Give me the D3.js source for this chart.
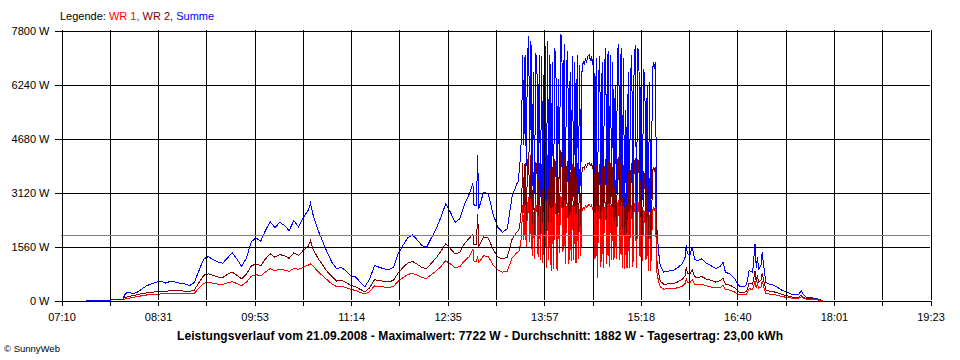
<!DOCTYPE html>
<html><head><meta charset="utf-8">
<script src="https://cdn.jsdelivr.net/npm/d3@7"></script>
<style>
body{margin:0;background:#fff;}
svg{display:block;}
text{font-family:"Liberation Sans",Arial,sans-serif;}
</style>
</head><body>
<svg id="chart" width="960" height="360"></svg>
<script>
const times = [
"07:31","07:45","08:02","08:03","08:06","08:10","08:14","08:18","08:22","08:26",
"08:30","08:34","08:38","08:42","08:46","08:50","08:54","08:58","09:02","09:06",
"09:10","09:14","09:18","09:22","09:26","09:30","09:34","09:38","09:42","09:46",
"09:50","09:54","09:58","10:02","10:06","10:10","10:14","10:18","10:22","10:26",
"10:30","10:34","10:38","10:40","10:42","10:46","10:50","10:54","10:58","11:02",
"11:06","11:10","11:14","11:18","11:22","11:26","11:30","11:34","11:38","11:42",
"11:46","11:50","11:54","11:58","12:02","12:06","12:10","12:14","12:18","12:22",
"12:26","12:30","12:34","12:38","12:42","12:46","12:50","12:54","12:57","12:58",
"13:00","13:01","13:02","13:06","13:10","13:14","13:18","13:22","13:26","13:30",
"13:34","13:35","13:36","13:37","13:38","13:39","13:40","13:41","13:42","13:43",
"13:44","13:45","13:46","13:47","13:48","13:49","13:50","13:51","13:52","13:53",
"13:54","13:55","13:56","13:57","13:58","13:59","14:00","14:01","14:02","14:03",
"14:04","14:05","14:06","14:07","14:08","14:09","14:10","14:11","14:12","14:13",
"14:14","14:15","14:16","14:17","14:18","14:19","14:20","14:21","14:22","14:23",
"14:24","14:25","14:26","14:27","14:28","14:29","14:30","14:31","14:32","14:33",
"14:34","14:35","14:36","14:37","14:38","14:39","14:40","14:41","14:42","14:43",
"14:44","14:45","14:46","14:47","14:48","14:49","14:50","14:51","14:52","14:53",
"14:54","14:55","14:56","14:57","14:58","14:59","15:00","15:01","15:02","15:03",
"15:04","15:05","15:06","15:07","15:08","15:09","15:10","15:11","15:12","15:13",
"15:14","15:15","15:16","15:17","15:18","15:19","15:20","15:21","15:22","15:23",
"15:24","15:25","15:26","15:27","15:28","15:29","15:30","15:31","15:32","15:33",
"15:34","15:35","15:38","15:42","15:46","15:50","15:54","15:56","15:57","15:58",
"16:00","16:02","16:04","16:06","16:10","16:14","16:18","16:22","16:26","16:28",
"16:30","16:34","16:38","16:42","16:46","16:48","16:50","16:53","16:55","16:56",
"16:57","16:58","17:00","17:01","17:02","17:04","17:06","17:10","17:14","17:18",
"17:22","17:26","17:30","17:32","17:34","17:36","17:38","17:42","17:46","17:50",
"17:52"
];
const summe = [
10,10,20,150,250,200,240,340,430,480,
530,560,500,560,530,500,480,430,520,870,
1200,1270,1175,1110,1080,1230,1380,1200,980,1230,
1690,1810,1710,2020,2280,2100,2260,2170,2020,2310,
2120,2400,2600,2810,2500,2070,1730,1400,1110,915,
960,850,720,680,530,400,625,1010,960,915,
890,960,1350,1590,1810,1900,1750,1590,1540,1810,
2070,2400,2790,2550,2260,2360,2790,3080,3380,2740,
2750,4190,2650,3130,3080,2500,2120,1970,2070,2990,
3370,3410,3700,4100,4770,7080,4500,7100,3900,6900,
7650,4300,7500,3300,6600,3100,7150,6900,3200,7100,
3000,7050,2800,6500,7350,2400,7500,3000,7100,2200,
6900,2300,7300,7000,2200,6400,3500,7700,7600,3600,
7400,2700,6800,7200,2700,6600,2900,7050,3000,6900,
2800,7100,3100,6800,3300,6600,6900,6800,7000,6900,
7050,7100,6950,7050,6800,7280,3100,7000,1700,6400,
7050,2500,6900,2400,6700,7280,2700,7200,2500,7100,
3000,6900,3000,6200,3100,7200,7400,3000,7300,2400,
7000,2370,5500,2400,6600,2400,6500,7100,2500,6900,
7370,2400,7300,7150,3200,6800,2900,6700,6400,3000,
6200,2200,6300,2200,5000,6900,6700,6900,2200,1700,
1300,1000,820,850,870,950,1080,1250,1590,1350,
1300,1540,1200,1150,1200,1080,1000,920,1000,1110,
820,760,620,400,400,480,870,820,1640,950,
1250,900,1000,1400,1100,530,480,450,380,290,
240,180,170,180,290,160,100,80,60,20,
0
];
const wr2 = [
null,null,null,80,110,140,170,200,220,240,
250,250,260,290,290,280,270,260,300,520,
730,770,720,680,660,760,820,730,625,760,
990,1060,1000,1200,1350,1250,1330,1290,1220,1380,
1300,1450,1560,1730,1500,1240,1040,840,700,560,
580,520,440,400,320,250,370,600,580,550,
540,580,800,950,1080,1130,1050,950,920,1080,
1230,1420,1640,1500,1340,1400,1650,1800,1925,1600,
1620,2510,1560,1840,1800,1480,1260,1200,1250,1760,
1980,2000,2070,2300,2670,3960,2520,3980,2180,3860,
4280,2410,4200,1850,3700,1740,4000,3860,1790,3980,
1680,3950,1570,3640,4120,1340,4200,1680,3980,1230,
3860,1290,4090,3920,1230,3580,1960,4310,4260,2020,
4140,1510,3810,4030,1510,3700,1620,3950,1680,3860,
1570,3980,1740,3810,1850,3700,3860,3810,3920,3860,
3950,3980,3890,3950,3810,4080,1740,3920,950,3580,
3950,1400,3860,1340,3750,4080,1510,4030,1400,3980,
1680,3860,1680,3470,1740,4030,4140,1680,4090,1340,
3920,1330,3080,1340,3700,1340,3640,3980,1400,3860,
4130,1340,4090,4000,1790,3810,1620,3750,3580,1680,
3470,1230,3530,1230,2800,3860,3750,3860,1230,950,
730,560,470,480,490,540,620,720,960,780,
750,900,690,660,690,620,580,530,580,640,
470,440,360,230,230,280,500,470,850,550,
720,520,580,780,640,310,280,260,220,170,
140,100,100,100,150,90,60,50,40,10,
0
];
const wr1 = [
null,null,null,40,60,90,110,140,160,170,
180,190,190,210,210,200,200,190,210,360,
500,530,500,470,460,510,540,490,430,530,
700,750,710,820,920,860,900,880,840,930,
900,960,1020,1060,1000,850,720,600,480,400,
410,370,320,290,230,190,260,420,400,390,
380,400,560,660,750,790,730,660,640,750,
850,980,1150,1060,940,980,1150,1270,1490,1130,
1140,1240,1100,1290,1270,1030,880,820,850,1220,
1380,1400,1440,1600,1860,2760,1760,2770,1520,2690,
2980,1680,2930,1290,2570,1210,2790,2690,1250,2770,
1170,2750,1090,2540,2870,940,2930,1170,2770,860,
2690,900,2850,2730,860,2500,1370,3000,2960,1400,
2890,1050,2650,2810,1050,2570,1130,2750,1170,2690,
1090,2770,1210,2650,1290,2570,2690,2650,2730,2690,
2750,2770,2710,2750,2650,2840,1210,2730,660,2500,
2750,980,2690,940,2610,2840,1050,2810,980,2770,
1170,2690,1170,2420,1210,2810,2890,1170,2850,940,
2730,920,2150,940,2570,940,2540,2770,980,2690,
2870,940,2850,2790,1250,2650,1130,2610,2500,1170,
2420,860,2460,860,1950,2690,2610,2690,860,660,
510,390,330,340,340,370,420,490,620,530,
510,600,470,450,470,420,390,360,390,430,
320,300,240,160,160,190,340,320,560,370,
480,350,390,560,430,210,190,180,150,110,
90,70,60,70,110,60,40,30,20,10,
0
];
const xTickLabels = ["07:10","08:31","09:53","11:14","12:35","13:57","15:18","16:40","18:01","19:23"];
const yTicks = [0,1560,3120,4680,6240,7800];
const averageValue = 1882;
const legendLabel = "Legende: ";
const legendNames = ["WR 1", "WR 2", "Summe"];
const titleText = "Leistungsverlauf vom 21.09.2008 - Maximalwert: 7722 W - Durchschnitt: 1882 W - Tagesertrag: 23,00 kWh";
const footerText = "\u00A9 SunnyWeb";

const colors = {"WR 1":"#ff0000","WR 2":"#800000","Summe":"#0000ff"};
const toMin = s => { const p = s.split(":"); return (+p[0])*60 + (+p[1]); };

const L = 61, R = 930, T = 30, B = 300;
const svg = d3.select("#chart");
svg.append("rect").attr("width",960).attr("height",360).attr("fill","#fff");

const x = d3.scaleLinear()
  .domain([toMin(xTickLabels[0]), toMin(xTickLabels[xTickLabels.length-1])])
  .range([L, R]);
const y = d3.scaleLinear().domain([0, yTicks[yTicks.length-1]]).range([B, T]);

const nInt = (xTickLabels.length - 1) * 2;
const d0 = x.domain()[0], d1 = x.domain()[1];
const xTickVals = d3.range(nInt + 1).map(i => d0 + i * (d1 - d0) / nInt);

// data lines
const n = Math.min(times.length, summe.length, wr1.length, wr2.length);
const mk = vals => d3.range(n).map(i => ({t: toMin(times[i]), v: vals[i]}));
const line = d3.line().defined(d => d.v != null).x(d => x(d.t)).y(d => y(d.v));
const plot = svg.append("g").attr("transform","translate(0.5,0.5)");
[["Summe", summe], ["WR 2", wr2], ["WR 1", wr1]].forEach(([name, vals]) => {
  plot.append("path").datum(mk(vals))
    .attr("d", line).attr("fill","none")
    .attr("stroke", colors[name]).attr("stroke-width",1)
    .attr("shape-rendering","crispEdges");
});

// grids (drawn above data)
const gridY = svg.append("g").attr("transform",`translate(${L},0.5)`)
  .call(d3.axisLeft(y).tickValues(yTicks).tickSize(-(R - L)).tickFormat(""));
gridY.select(".domain").remove();
gridY.selectAll("line").attr("stroke","#000").attr("shape-rendering","crispEdges");

const gridX = svg.append("g").attr("transform",`translate(0.5,${B})`)
  .call(d3.axisBottom(x).tickValues(xTickVals).tickSize(-(B - T)).tickFormat(""));
gridX.select(".domain").remove();
gridX.selectAll("line").attr("stroke","#000").attr("shape-rendering","crispEdges");

// average line
svg.append("line")
  .attr("x1", L).attr("x2", R)
  .attr("y1", Math.round(y(averageValue)) + 0.5).attr("y2", Math.round(y(averageValue)) + 0.5)
  .attr("stroke","#808080").attr("stroke-width",1).attr("shape-rendering","crispEdges");

// y axis with labels
const yAxis = svg.append("g").attr("transform",`translate(${L + 0.5},0.5)`)
  .call(d3.axisLeft(y).tickValues(yTicks).tickSize(7).tickSizeOuter(0).tickPadding(5)
    .tickFormat(d => d + " W"));
yAxis.select(".domain").attr("stroke","#000").attr("shape-rendering","crispEdges");
yAxis.selectAll("line").attr("stroke","#000").attr("shape-rendering","crispEdges");
yAxis.selectAll("text").attr("font-size",11).attr("fill","#000")
  .attr("font-family",'"Liberation Sans",Arial,sans-serif');

// x axis with labels
const xAxis = svg.append("g").attr("transform",`translate(0.5,${B + 0.5})`)
  .call(d3.axisBottom(x).tickValues(xTickVals).tickSize(5).tickSizeOuter(0).tickPadding(8)
    .tickFormat((d, i) => i % 2 === 0 ? xTickLabels[i / 2] : ""));
xAxis.select(".domain").attr("stroke","#000").attr("shape-rendering","crispEdges");
xAxis.selectAll("line").attr("stroke","#000").attr("shape-rendering","crispEdges");
xAxis.selectAll("text").attr("font-size",11).attr("fill","#000")
  .attr("font-family",'"Liberation Sans",Arial,sans-serif');

// legend
const leg = svg.append("text").attr("x", 60).attr("y", 20).attr("font-size", 11).attr("fill","#000");
leg.append("tspan").text(legendLabel);
legendNames.forEach((nm, i) => {
  leg.append("tspan").attr("fill", colors[nm]).text(nm + (i < legendNames.length - 1 ? ", " : ""));
});

// title
svg.append("text").attr("x", 480).attr("y", 340).attr("text-anchor","middle")
  .attr("font-size", 12).attr("font-weight","bold").attr("fill","#000")
  .attr("textLength", 606).attr("lengthAdjust","spacing").text(titleText);

// footer
svg.append("text").attr("x", 4).attr("y", 352).attr("font-size", 9.5).attr("fill","#000").text(footerText);
</script>
</body></html>
